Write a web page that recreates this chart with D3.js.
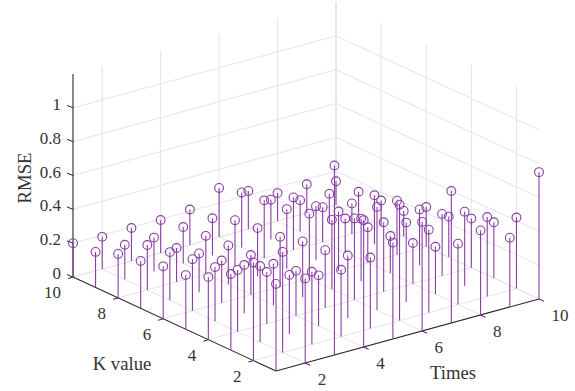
<!DOCTYPE html>
<html>
<head>
<meta charset="utf-8">
<script src="https://cdn.jsdelivr.net/npm/d3@7"></script>
<style>
  body { margin: 0; background: #fff; }
  text { font-family: "Liberation Serif", serif; fill: #333; }
</style>
</head>
<body>
<div id="chart"></div>
<script>
// Axis values
var timesTicks = [2, 4, 6, 8, 10];
var kTicks = [2, 4, 6, 8, 10];
var rmseTicks = [0, 0.2, 0.4, 0.6, 0.8, 1];
var timesValues = [1, 2, 3, 4, 5, 6, 7, 8, 9, 10];
var kValues = [1, 2, 3, 4, 5, 6, 7, 8, 9, 10];

// RMSE per K value, one number for each of the ten times
var rmseK1 = [0.515, 0.50, 1.12, 0.75, 0.57, 0.645, 0.78, 0.50, 0.41, 0.75];
var rmseK2 = [0.58, 0.595, 0.43, 0.395, 0.42, 0.685, 0.49, 0.36, 0.47, 0.42];
var rmseK3 = [0.45, 0.45, 0.35, 0.30, 0.37, 0.61, 0.47, 0.28, 0.44, 0.33];
var rmseK4 = [0.37, 0.365, 0.305, 0.265, 0.34, 0.48, 0.41, 0.24, 0.365, 0.29];
var rmseK5 = [0.32, 0.32, 0.285, 0.245, 0.33, 0.41, 0.37, 0.22, 0.33, 0.24];
var rmseK6 = [0.31, 0.305, 0.25, 0.235, 0.295, 0.385, 0.35, 0.21, 0.32, 0.235];
var rmseK7 = [0.28, 0.285, 0.23, 0.23, 0.285, 0.35, 0.32, 0.20, 0.29, 0.15];
var rmseK8 = [0.26, 0.265, 0.20, 0.225, 0.27, 0.34, 0.31, 0.205, 0.18, 0.15];
var rmseK9 = [0.21, 0.205, 0.20, 0.215, 0.22, 0.325, 0.235, 0.185, 0.175, 0.14];
var rmseK10 = [0.20, 0.19, 0.195, 0.195, 0.21, 0.29, 0.225, 0.165, 0.17, 0.14];
var rmseRows = [rmseK1, rmseK2, rmseK3, rmseK4, rmseK5, rmseK6, rmseK7, rmseK8, rmseK9, rmseK10];

// Define SVG area dimensions
var svgWidth = 575;
var svgHeight = 391;

// Screen position of the front floor corner (Times 1, K value 1, RMSE 0)
var originX = 276;
var originY = 371;

// Each data axis moves on screen in both x and y, so it gets two scales
var timesToX = d3.scaleLinear().domain([1, 10]).range([0, 263]);
var timesToY = d3.scaleLinear().domain([1, 10]).range([0, -72]);
var kToX = d3.scaleLinear().domain([1, 10]).range([0, -203]);
var kToY = d3.scaleLinear().domain([1, 10]).range([0, -94]);
var rmseToY = d3.scaleLinear().domain([0, 1.2]).range([0, -203]);

function px(t, k) {
  return originX + timesToX(t) + kToX(k);
}

function py(t, k, z) {
  return originY + timesToY(t) + kToY(k) + rmseToY(z);
}

var svg = d3.select("#chart")
  .append("svg")
  .attr("width", svgWidth)
  .attr("height", svgHeight);

// Draw a straight segment between two (t, k, z) points
function segment(group, a, b, color, width) {
  group.append("line")
    .attr("x1", px(a[0], a[1]))
    .attr("y1", py(a[0], a[1], a[2]))
    .attr("x2", px(b[0], b[1]))
    .attr("y2", py(b[0], b[1], b[2]))
    .attr("stroke", color)
    .attr("stroke-width", width);
}

// Grid lines
var gridGroup = svg.append("g");
var gridColor = "#e4e4e4";

timesTicks.forEach(function(t) {
  segment(gridGroup, [t, 1, 0], [t, 10, 0], gridColor, 1);
  segment(gridGroup, [t, 10, 0], [t, 10, 1.2], gridColor, t === 10 ? 1.6 : 1);
});

kTicks.forEach(function(k) {
  segment(gridGroup, [1, k, 0], [10, k, 0], gridColor, 1);
  if (k < 10) {
    segment(gridGroup, [10, k, 0], [10, k, 1.2], gridColor, 1);
  }
});

rmseTicks.forEach(function(z) {
  segment(gridGroup, [1, 10, z], [10, 10, z], gridColor, 1);
  segment(gridGroup, [10, 10, z], [10, 1, z], gridColor, 1);
});

// Axis lines
var axisGroup = svg.append("g");
var axisColor = "#262626";

segment(axisGroup, [1, 10, 0], [1, 10, 1.2], axisColor, 1.1);
segment(axisGroup, [1, 10, 0], [1, 1, 0], axisColor, 1.1);
segment(axisGroup, [1, 1, 0], [10, 1, 0], axisColor, 1.1);

// RMSE ticks and labels
rmseTicks.forEach(function(z) {
  var x = px(1, 10);
  var y = py(1, 10, z);
  axisGroup.append("line")
    .attr("x1", x).attr("y1", y)
    .attr("x2", x - 6).attr("y2", y - 2.4)
    .attr("stroke", axisColor);
  axisGroup.append("text")
    .attr("x", x - 12)
    .attr("y", y + 2)
    .attr("text-anchor", "end")
    .attr("font-size", "17px")
    .text(z);
});

// K value ticks and labels
kTicks.forEach(function(k) {
  var x = px(1, k);
  var y = py(1, k, 0);
  axisGroup.append("line")
    .attr("x1", x).attr("y1", y)
    .attr("x2", x - 5).attr("y2", y + 1.5)
    .attr("stroke", axisColor);
  axisGroup.append("text")
    .attr("x", x - 12)
    .attr("y", y + 21)
    .attr("text-anchor", "end")
    .attr("font-size", "17px")
    .text(k);
});

// Times ticks and labels
timesTicks.forEach(function(t) {
  var x = px(t, 1);
  var y = py(t, 1, 0);
  axisGroup.append("line")
    .attr("x1", x).attr("y1", y)
    .attr("x2", x + 5).attr("y2", y + 2.3)
    .attr("stroke", axisColor);
  axisGroup.append("text")
    .attr("x", x + 12.5)
    .attr("y", y + 22)
    .attr("text-anchor", "start")
    .attr("font-size", "17px")
    .text(t);
});

// Axis titles
svg.append("text")
  .attr("transform", "translate(31, 178) rotate(-90)")
  .attr("text-anchor", "middle")
  .attr("font-size", "18.7px")
  .text("RMSE");

svg.append("text")
  .attr("x", 122)
  .attr("y", 370)
  .attr("text-anchor", "middle")
  .attr("font-size", "18.7px")
  .text("K value");

svg.append("text")
  .attr("x", 453)
  .attr("y", 379)
  .attr("text-anchor", "middle")
  .attr("font-size", "18.7px")
  .text("Times");

// Stems and markers, back rows first
var stemColor = "#8a3da6";
var points = [];
kValues.slice().reverse().forEach(function(k) {
  timesValues.forEach(function(t, i) {
    points.push({ t: t, k: k, z: rmseRows[k - 1][i] });
  });
});

var stemGroup = svg.append("g");

stemGroup.selectAll("line")
  .data(points)
  .enter()
  .append("line")
  .attr("x1", d => px(d.t, d.k))
  .attr("y1", d => py(d.t, d.k, 0))
  .attr("x2", d => px(d.t, d.k))
  .attr("y2", d => py(d.t, d.k, d.z))
  .attr("stroke", stemColor)
  .attr("stroke-width", 1.1);

stemGroup.selectAll("circle")
  .data(points)
  .enter()
  .append("circle")
  .attr("cx", d => px(d.t, d.k))
  .attr("cy", d => py(d.t, d.k, d.z))
  .attr("r", 4.4)
  .attr("fill", "none")
  .attr("stroke", stemColor)
  .attr("stroke-width", 1.1);
</script>
</body>
</html>
